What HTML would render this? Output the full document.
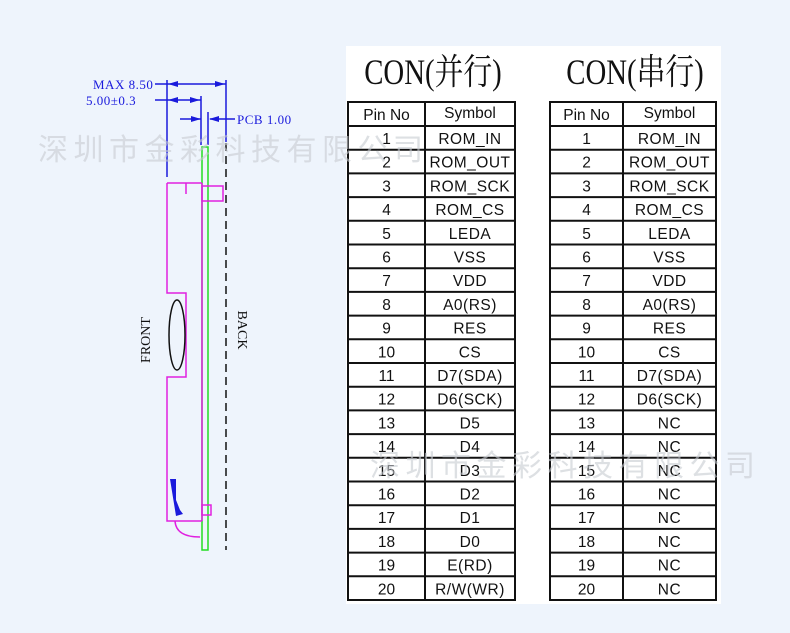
<!DOCTYPE html>
<html><head><meta charset="utf-8"><style>
html,body{margin:0;padding:0;background:#eef4fc;}
svg{display:block}
</style></head><body>
<svg width="790" height="633" viewBox="0 0 790 633" xmlns="http://www.w3.org/2000/svg">
<rect width="790" height="633" fill="#eef4fc"/>
<rect x="346" y="46" width="375" height="558" fill="#ffffff"/>
<text x="433" y="84" text-anchor="middle" font-family="Liberation Serif, 'Noto Serif CJK SC', serif" font-size="36" fill="#111" transform="translate(433 0) scale(0.8 1) translate(-433 0)">CON(并行)</text>
<text x="635" y="84" text-anchor="middle" font-family="Liberation Serif, 'Noto Serif CJK SC', serif" font-size="36" fill="#111" transform="translate(635 0) scale(0.8 1) translate(-635 0)">CON(串行)</text>
<g id="tables" font-family="Liberation Sans, sans-serif" font-size="15.5" fill="#111" text-anchor="middle"></g>
<g stroke="#1a1adc" stroke-width="1.5" fill="none">
<line x1="155" y1="84" x2="226" y2="84"/>
<line x1="155" y1="100" x2="201" y2="100"/>
<line x1="167" y1="80" x2="167" y2="177"/>
<line x1="201" y1="96" x2="201" y2="145"/>
<line x1="226" y1="80" x2="226" y2="142"/>
<line x1="208" y1="112" x2="208" y2="145"/>
<line x1="180" y1="119" x2="201" y2="119"/>
<line x1="210" y1="119" x2="235" y2="119"/>
</g>
<g fill="#1a1adc">
<polygon points="168,84 178,81 178,87"/><polygon points="225,84 215,81 215,87"/>
<polygon points="168,100 178,97 178,103"/><polygon points="200,100 190,97 190,103"/>
<polygon points="201,119 191,116 191,122"/><polygon points="209,119 219,116 219,122"/>
</g>
<g font-family="Liberation Serif, serif" font-size="13" fill="#1a1adc" letter-spacing="0.5">
<text x="93" y="89">MAX 8.50</text>
<text x="86" y="105">5.00±0.3</text>
<text x="237" y="124">PCB 1.00</text>
</g>
<line x1="226" y1="143" x2="226" y2="550" stroke="#111" stroke-width="1.5" stroke-dasharray="8,5"/>
<rect x="202" y="147" width="6" height="403" fill="none" stroke="#22dd22" stroke-width="1.5"/>
<g stroke="#e020e0" stroke-width="1.5" fill="none">
<path d="M167,183 H202 M167,183 V293 H186 V377 H167 V521 H202"/>
<line x1="202" y1="183" x2="202" y2="521"/>
<line x1="186" y1="183" x2="186" y2="194"/>
<rect x="202" y="186" width="21" height="15"/>
<rect x="202" y="505" width="9" height="10"/>
<path d="M175,521 Q176,537 200,537"/>
</g>
<ellipse cx="177" cy="335" rx="8" ry="35" fill="none" stroke="#111" stroke-width="1.5"/>
<path d="M170,479 L176,479 L176,500 L180,510 L183,514 L176,516 Z" fill="#1a1adc"/>
<text transform="translate(150 340) rotate(-90)" text-anchor="middle" font-family="Liberation Serif, serif" font-size="14" fill="#111">FRONT</text>
<text transform="translate(238 330) rotate(90)" text-anchor="middle" font-family="Liberation Serif, serif" font-size="14" fill="#111">BACK</text>
<g font-family="'Noto Sans CJK SC', sans-serif" font-size="30" fill="#c8ccd2" opacity="0.6">
<text x="38" y="160" textLength="385">深圳市金彩科技有限公司</text>
<text x="370" y="476" textLength="385">深圳市金彩科技有限公司</text>
</g>
<script>
var g=document.getElementById('tables');var ns='http://www.w3.org/2000/svg';
var L=['ROM_IN','ROM_OUT','ROM_SCK','ROM_CS','LEDA','VSS','VDD','A0(RS)','RES','CS','D7(SDA)','D6(SCK)','D5','D4','D3','D2','D1','D0','E(RD)','R/W(WR)'];
var R=L.slice(0,12).concat(['NC','NC','NC','NC','NC','NC','NC','NC']);
function el(n,a,t){var e=document.createElementNS(ns,n);for(var k in a)e.setAttribute(k,a[k]);if(t)e.textContent=t;g.appendChild(e);}
function table(x0,x1,x2,arr){
 var top=102,rh=23.7,bot=126+20*rh;
 el('rect',{x:x0,y:top,width:x2-x0,height:bot-top,fill:'none',stroke:'#111','stroke-width':2});
 el('line',{x1:x1,y1:top,x2:x1,y2:bot,stroke:'#111','stroke-width':2});
 el('text',{x:(x0+x1)/2,y:top+18},'Pin No');
 el('text',{x:(x1+x2)/2,y:top+16},'Symbol');
 for(var i=0;i<20;i++){var y=126+i*rh;
  el('line',{x1:x0,y1:y,x2:x2,y2:y,stroke:'#111','stroke-width':2});
  el('text',{x:(x0+x1)/2,y:y+18},String(i+1));
  el('text',{x:(x1+x2)/2,y:y+18,'letter-spacing':'0.5'},arr[i]);}
}
table(348,425,515,L);table(550,623,716,R);
</script>
</svg>
</body></html>
